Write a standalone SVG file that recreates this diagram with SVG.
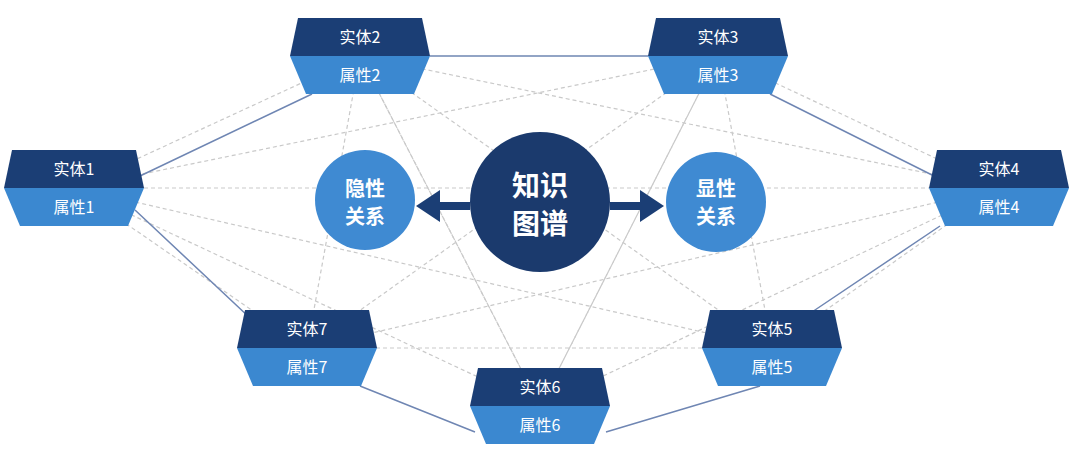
<svg xmlns="http://www.w3.org/2000/svg" width="1080" height="462" viewBox="0 0 1080 462">
<style>
.t{fill:#1b3e75}.b{fill:#3b88d0}
.lbl{font-family:"Noto Sans CJK SC","Liberation Sans",sans-serif;font-size:16px;fill:#fff;text-anchor:middle}
.big{font-family:"Noto Sans CJK SC",sans-serif;font-weight:bold;fill:#fff;text-anchor:middle}
.d{stroke:#c9c9c9;stroke-width:1.2;stroke-dasharray:4 3;fill:none}
.s{stroke:#6f86b3;stroke-width:1.5;fill:none}
</style>
<defs>
<g id="hex">
<polygon class="t" points="-62,-38 62,-38 70,0 -70,0"/>
<polygon class="b" points="-70,0 70,0 54,38 -54,38"/>
</g>
<marker id="ar" markerWidth="4" markerHeight="4" refX="1" refY="2" orient="auto"><path d="M0,0 L3,2 L0,4Z" fill="#1b3e75"/></marker>
</defs>
<rect width="1080" height="462" fill="#fff"/>
<g id="connectors">
<g class="d">
<path d="M74,188 L360,56 M74,188 L718,56 M74,188 L999,188 M74,188 L772,348 M74,188 L540,406 M74,188 L307,348"/>
<path d="M360,56 L999,188 M360,56 L772,348 M360,56 L540,406 M360,56 L307,348"/>
<path d="M718,56 L999,188 M718,56 L772,348 M718,56 L540,406 M718,56 L307,348"/>
<path d="M999,188 L772,348 M999,188 L540,406 M999,188 L307,348"/>
<path d="M772,348 L307,348 M540,406 L360,56 M540,406 L718,56"/>
</g>
<path class="s" d="M140,176 L312,94 M430,56 L648,56 M770,94 L934,176 M940,226 L812,312 M760,386 L606,432 M475,432 L360,386 M250,318 L135,210"/>
<path d="M470,206 L432,206" stroke="#1b3e75" stroke-width="8" marker-end="url(#ar)"/>
<path d="M610,206 L648,206" stroke="#1b3e75" stroke-width="8" marker-end="url(#ar)"/>
</g>
<g id="c-left"><circle cx="365" cy="200" r="50" fill="#3f8ad2"/><text class="big" x="365" y="196" font-size="20">隐性</text><text class="big" x="365" y="224" font-size="20">关系</text></g>
<g id="c-center"><circle cx="540" cy="202" r="70" fill="#1b3a6d"/><text class="big" x="540" y="196" font-size="28">知识</text><text class="big" x="540" y="234" font-size="28">图谱</text></g>
<g id="c-right"><circle cx="716" cy="202" r="50" fill="#3f8ad2"/><text class="big" x="716" y="196" font-size="20">显性</text><text class="big" x="716" y="224" font-size="20">关系</text></g>
<g id="n1"><use href="#hex" x="74" y="188"/><text class="lbl" x="74" y="175">实体1</text><text class="lbl" x="74" y="213">属性1</text></g>
<g id="n2"><use href="#hex" x="360" y="56"/><text class="lbl" x="360" y="43">实体2</text><text class="lbl" x="360" y="81">属性2</text></g>
<g id="n3"><use href="#hex" x="718" y="56"/><text class="lbl" x="718" y="43">实体3</text><text class="lbl" x="718" y="81">属性3</text></g>
<g id="n4"><use href="#hex" x="999" y="188"/><text class="lbl" x="999" y="175">实体4</text><text class="lbl" x="999" y="213">属性4</text></g>
<g id="n5"><use href="#hex" x="772" y="348"/><text class="lbl" x="772" y="335">实体5</text><text class="lbl" x="772" y="373">属性5</text></g>
<g id="n6"><use href="#hex" x="540" y="406"/><text class="lbl" x="540" y="393">实体6</text><text class="lbl" x="540" y="431">属性6</text></g>
<g id="n7"><use href="#hex" x="307" y="348"/><text class="lbl" x="307" y="335">实体7</text><text class="lbl" x="307" y="373">属性7</text></g>
</svg>
